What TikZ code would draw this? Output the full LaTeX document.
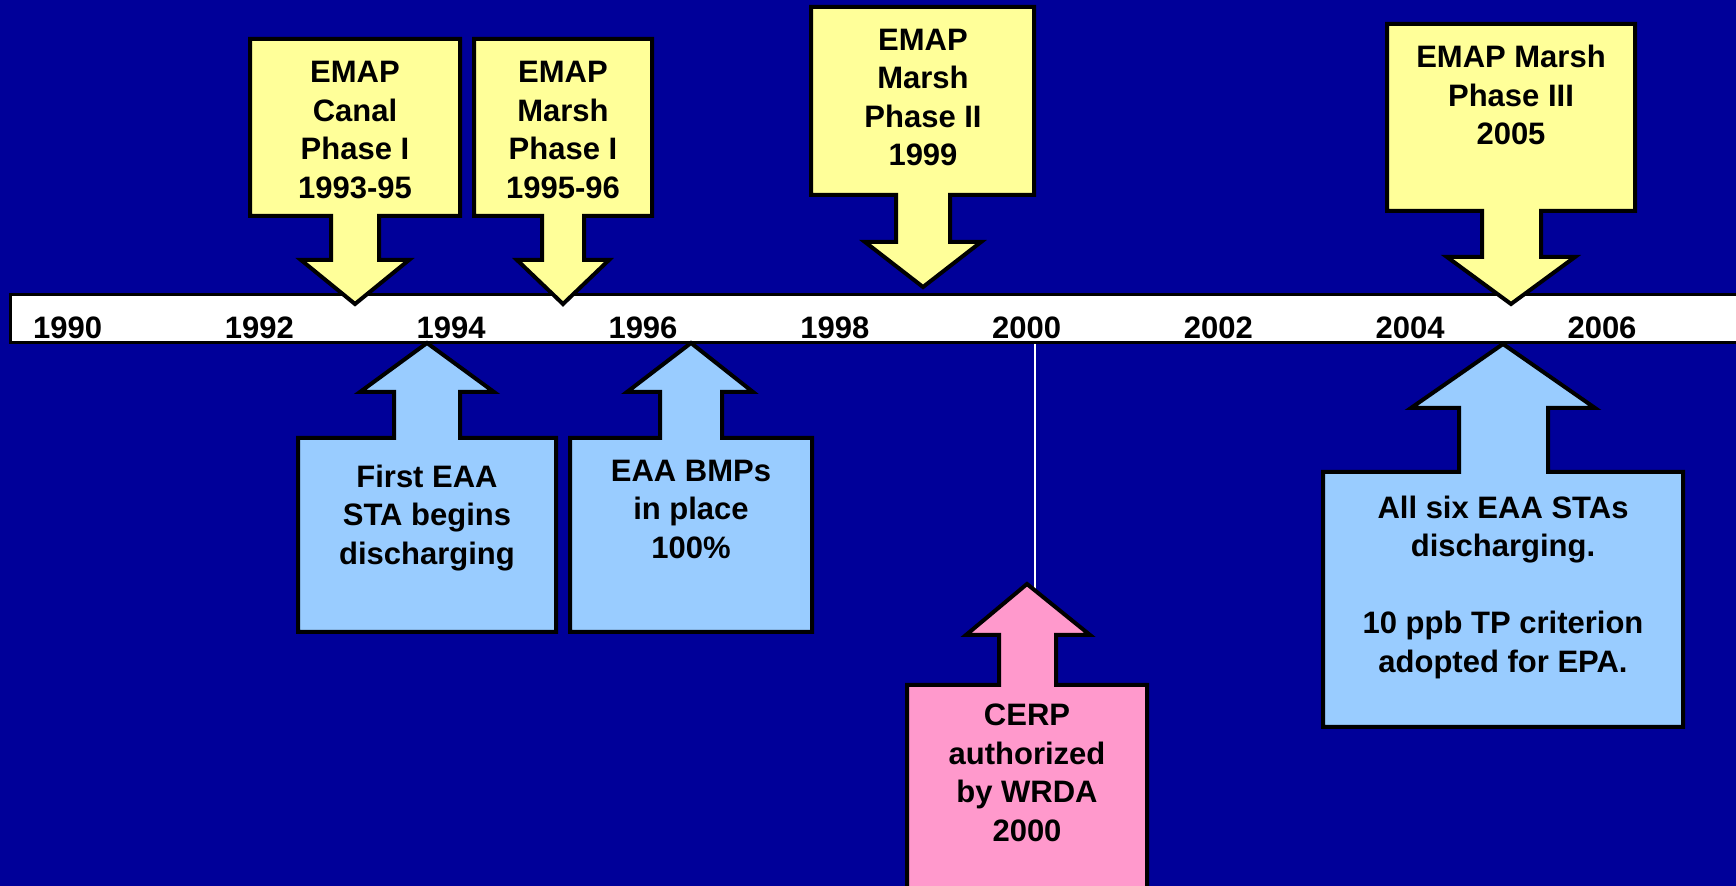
\documentclass[tikz,border=0pt]{standalone}
\usepackage{fontspec}
\setmainfont{Liberation Sans}
\definecolor{bg}{RGB}{0,0,153}
\definecolor{ylw}{RGB}{255,255,153}
\definecolor{lblue}{RGB}{153,204,255}
\definecolor{pnk}{RGB}{255,153,204}
\tikzset{
  callout/.style={draw=black, line width=2pt, line join=miter},
  lbl/.style={font=\bfseries\fontsize{15.5}{19.25}\selectfont, align=center, inner sep=0pt, text=black},
  yr/.style={font=\bfseries\fontsize{15.5}{19.25}\selectfont, inner sep=0pt, text=black},
}
\begin{document}
\begin{tikzpicture}[x=0.5pt, y=-0.5pt]
\useasboundingbox (0,0) rectangle (1736,886);
\clip (0,0) rectangle (1736,886);
\fill[bg] (0,0) rectangle (1736,886);
% timeline bar
\draw[fill=white, draw=black, line width=1.5pt] (10,295) rectangle (1760,343);
\foreach \yv [count=\i from 0] in {1990,1992,1994,1996,1998,2000,2002,2004,2006}
  \node[yr] (y\yv) at ({67.6+191.8*\i},327.5) {\yv};
% white line to CERP
\coordinate (ptip) at (1027,584);
\draw[white, line width=1.4pt] (1035,344) -- (1035,590);
% yellow callouts (down)
\draw[callout, fill=ylw] (250,39) -- (460,39) -- (460,216) -- (379,216) -- (379,260) -- (409,260) -- (355,304) -- (301,260) -- (331,260) -- (331,216) -- (250,216) -- cycle;
\draw[callout, fill=ylw] (474,39) -- (652,39) -- (652,216) -- (584,216) -- (584,260) -- (609,260) -- (563,304) -- (517,260) -- (542,260) -- (542,216) -- (474,216) -- cycle;
\draw[callout, fill=ylw] (811,7) -- (1034,7) -- (1034,195) -- (950,195) -- (950,242) -- (981,242) -- (923,287) -- (865,242) -- (896,242) -- (896,195) -- (811,195) -- cycle;
\draw[callout, fill=ylw] (1387,24) -- (1635,24) -- (1635,211) -- (1541,211) -- (1541,257) -- (1575,257) -- (1511,304) -- (1447,257) -- (1482,257) -- (1482,211) -- (1387,211) -- cycle;
% blue callouts (up)
\draw[callout, fill=lblue] (298,632) -- (556,632) -- (556,438) -- (460,438) -- (460,392) -- (494,392) -- (427,343) -- (360,392) -- (394,392) -- (394,438) -- (298,438) -- cycle;
\draw[callout, fill=lblue] (570,632) -- (812,632) -- (812,438) -- (722,438) -- (722,392) -- (753,392) -- (691,343) -- (627,392) -- (660,392) -- (660,438) -- (570,438) -- cycle;
\draw[callout, fill=lblue] (1323,727) -- (1683,727) -- (1683,472) -- (1548,472) -- (1548,408) -- (1595,408) -- (1503,344) -- (1411,408) -- (1459,408) -- (1459,472) -- (1323,472) -- cycle;
% pink callout
\draw[callout, fill=pnk] (907,900) -- (1147,900) -- (1147,685) -- (1056,685) -- (1056,635) -- (1090,635) -- (ptip) -- (966,635) -- (999,635) -- (999,685) -- (907,685) -- cycle;
% texts
\node[lbl] (t1) at (355,130) {EMAP\\Canal\\Phase I\\1993-95};
\node[lbl] (t2) at (563,130) {EMAP\\Marsh\\Phase I\\1995-96};
\node[lbl] (t3) at (923,97.5) {EMAP\\Marsh\\Phase II\\1999};
\node[lbl] (t4) at (1511,95) {EMAP Marsh\\Phase III\\2005};
\node[lbl] (b1) at (427,518) {First EAA\\STA begins\\discharging};
\node[lbl] (b2) at (691,509) {EAA BMPs\\in place\\100\%};
\node[lbl] (b3) at (1503,587) {All six EAA STAs\\discharging.\\[19.25pt]10 ppb TP criterion\\adopted for EPA.};
\node[lbl] (p1) at (1027,773) {CERP\\authorized\\by WRDA\\2000};
\end{tikzpicture}
\end{document}
